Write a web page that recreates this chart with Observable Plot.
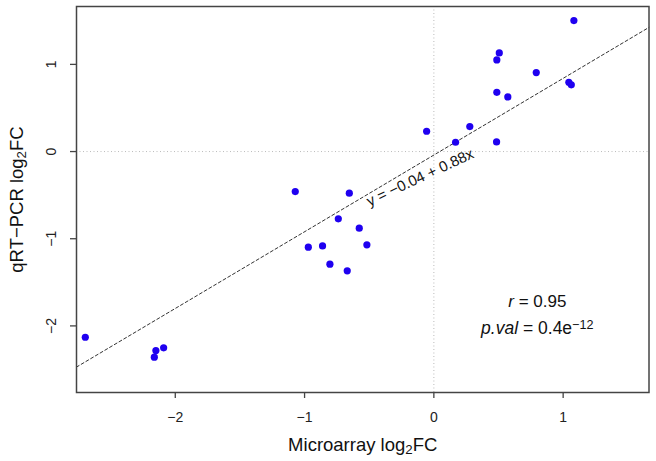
<!DOCTYPE html>
<html>
<head>
<meta charset="utf-8">
<script src="https://cdn.jsdelivr.net/npm/d3@7"></script>
<script src="https://cdn.jsdelivr.net/npm/@observablehq/plot@0.6"></script>
<style>
  html, body { margin: 0; padding: 0; background: #fff; }
  #chart { width: 656px; height: 461px; }
</style>
</head>
<body>
<div id="chart"></div>
<script>
// ---- data ----
const microarray = [1.083, 0.506, 0.487, 0.792, 0.487, 0.572, 1.044, 1.063, -0.056, 0.278, 0.168, 0.485,
  -0.654, -0.739, -0.577, -1.072, -0.971, -0.861, -0.804, -2.696, -2.150, -2.090, -2.162, -0.518, -0.670];
const qrtpcr = [1.502, 1.132, 1.051, 0.906, 0.680, 0.627, 0.795, 0.765, 0.233, 0.287, 0.107, 0.111,
  -0.478, -0.772, -0.879, -0.459, -1.097, -1.082, -1.292, -2.130, -2.282, -2.252, -2.359, -1.070, -1.368];
const xTicks = [-2, -1, 0, 1];
const yTicks = [-2, -1, 0, 1];
const axisLimits = [-2.6, 1.5];
const fitIntercept = -0.04;
const fitSlope = 0.88;
const rValue = "0.95";
const pMantissa = "0.4";
const pExponent = "\u221212";
const xTitle = ["Microarray log", "2", "FC"];
const yTitle = ["qRT\u2212PCR log", "2", "FC"];

// ---- derived ----
const pts = microarray.map((x, i) => ({x, y: qrtpcr[i]}));
const pad = (axisLimits[1] - axisLimits[0]) * 0.04;
const dom = [axisLimits[0] - pad, axisLimits[1] + pad];
const mid = (dom[0] + dom[1]) / 2;
const fitLine = dom.map(x => ({x, y: fitIntercept + fitSlope * x}));
const eqText = `y = \u2212${Math.abs(fitIntercept).toFixed(2)} + ${fitSlope.toFixed(2)}x`;
const fmt = d => d < 0 ? "\u2212" + Math.abs(d) : String(d);

const font = "'Liberation Sans', Arial, Helvetica, sans-serif";

const chart = Plot.plot({
  width: 656,
  height: 461,
  marginLeft: 76,
  marginRight: 7.5,
  marginTop: 6,
  marginBottom: 69,
  style: {fontFamily: font, fontSize: "14px", background: "#fff", color: "#222"},
  x: {domain: dom},
  y: {domain: dom},
  marks: [
    Plot.ruleX([0], {stroke: "#bbb", strokeDasharray: "1,2.5", strokeWidth: 1}),
    Plot.ruleY([0], {stroke: "#bbb", strokeDasharray: "1,2.5", strokeWidth: 1}),
    Plot.line(fitLine, {x: "x", y: "y", stroke: "#333", strokeWidth: 1, strokeDasharray: "3,2.5"}),
    Plot.dot(pts, {x: "x", y: "y", r: 3.6, fill: "#1f00f0", stroke: "none"}),
    Plot.axisX(xTicks, {tickSize: 6, tickPadding: 14, tickFormat: fmt, fontSize: 14, stroke: "#444", strokeWidth: 1.3, label: null}),
    Plot.axisY(yTicks, {tickSize: 6, tickFormat: () => "", stroke: "#444", strokeWidth: 1.3, label: null}),
    Plot.text(yTicks, {x: () => dom[0], y: d => d, text: fmt, rotate: -90, dx: -21, lineAnchor: "bottom", textAnchor: "middle", fontSize: 14, fill: "#222"}),
    Plot.frame({stroke: "#444", strokeWidth: 1.5}),
    Plot.text([eqText], {x: () => -0.106, y: () => -0.297, text: d => d, rotate: -25, fontSize: 15, fill: "#111", lineAnchor: "middle", textAnchor: "middle"}),
    Plot.text(["rline"], {x: () => 0.80, y: () => -1.716, text: d => d, fontSize: 17, fill: "#111", lineAnchor: "middle", textAnchor: "middle"}),
    Plot.text(["pline"], {x: () => 0.80, y: () => -2.03, text: d => d, fontSize: 17.5, fill: "#111", lineAnchor: "middle", textAnchor: "middle"}),
    Plot.text(["xtitle"], {x: () => mid, y: () => dom[0], dy: 53, text: d => d, fontSize: 18.5, fill: "#111", lineAnchor: "middle", textAnchor: "middle"}),
    Plot.text(["ytitle"], {x: () => dom[0], y: () => mid, dx: -59, rotate: -90, text: d => d, fontSize: 18.5, fill: "#111", lineAnchor: "middle", textAnchor: "middle"})
  ]
});

const svg = d3.select(chart);
const sub = s => `<tspan baseline-shift="-22%" font-size="72%">${s}</tspan>`;
const sup = s => `<tspan baseline-shift="38%" font-size="72%">${s}</tspan>`;
svg.selectAll("text").each(function() {
  const t = this.textContent;
  if (t === "rline") this.innerHTML = `<tspan font-style="italic">r</tspan> = ${rValue}`;
  else if (t === "pline") this.innerHTML = `<tspan font-style="italic">p.val</tspan> = ${pMantissa}e${sup(pExponent)}`;
  else if (t === "xtitle") this.innerHTML = `${xTitle[0]}${sub(xTitle[1])}${xTitle[2]}`;
  else if (t === "ytitle") this.innerHTML = `${yTitle[0]}${sub(yTitle[1])}${yTitle[2]}`;
});
document.getElementById("chart").appendChild(chart);
</script>
</body>
</html>
